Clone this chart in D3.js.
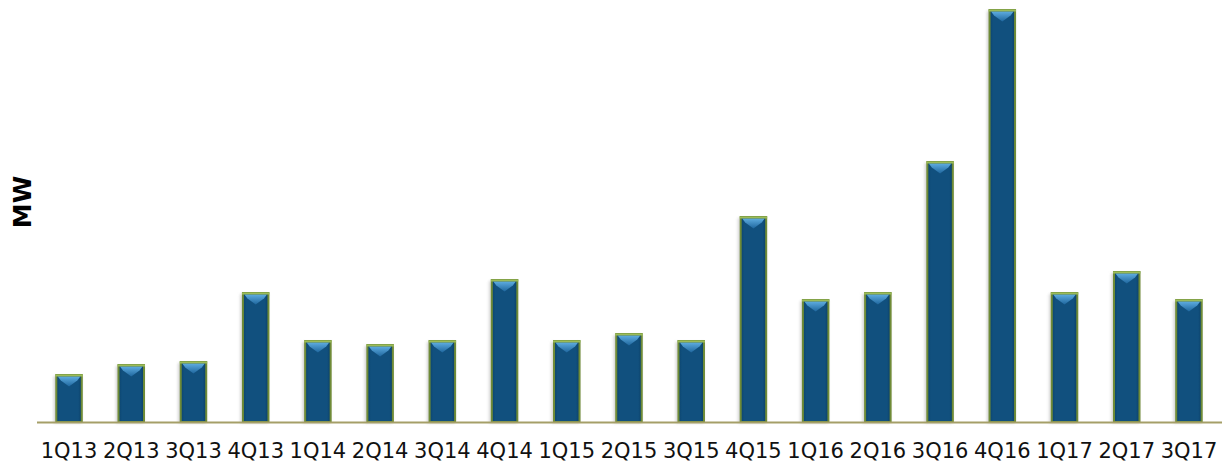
<!DOCTYPE html>
<html>
<head>
<meta charset="utf-8">
<script src="https://cdn.jsdelivr.net/npm/d3@7"></script>
<style>
  html, body { margin: 0; padding: 0; background: #fff; }
  svg { display: block; }
</style>
</head>
<body>
<svg id="chart" width="1222" height="472"></svg>
<script>
// Quarterly installed capacity (MW)
const quarters = ["1Q13","2Q13","3Q13","4Q13","1Q14","2Q14","3Q14","4Q14","1Q15","2Q15",
                  "3Q15","4Q15","1Q16","2Q16","3Q16","4Q16","1Q17","2Q17","3Q17"];
const capacityMW = [470, 570, 600, 1290, 810, 770, 810, 1420, 810, 880,
                    810, 2050, 1220, 1290, 2600, 4120, 1290, 1500, 1220];
const axisTitle = "MW";

const svg = d3.select("#chart");
const W = 1222, H = 472;
const margin = { left: 37, right: 1, top: 10, bottom: 50 };
const baseY = H - margin.bottom; // 422

const x = d3.scaleBand()
  .domain(quarters)
  .range([margin.left, W - margin.right])
  .paddingInner(0.59)
  .paddingOuter(0.31);

const y = d3.scaleLinear()
  .domain([0, d3.max(capacityMW)])
  .range([baseY, margin.top]);

const defs = svg.append("defs");
const bevel = defs.append("linearGradient")
  .attr("id", "bevelTop").attr("x1", 0).attr("y1", 0).attr("x2", 0).attr("y2", 1);
bevel.append("stop").attr("offset", "0%").attr("stop-color", "#5eace0");
bevel.append("stop").attr("offset", "100%").attr("stop-color", "#1f679e");

const body = defs.append("linearGradient")
  .attr("id", "barBody").attr("x1", 0).attr("y1", 0).attr("x2", 1).attr("y2", 0);
body.append("stop").attr("offset", "0%").attr("stop-color", "#0b446d");
body.append("stop").attr("offset", "14%").attr("stop-color", "#11507e");
body.append("stop").attr("offset", "86%").attr("stop-color", "#11507e");
body.append("stop").attr("offset", "100%").attr("stop-color", "#0b3f66");

const shadow = defs.append("filter").attr("id", "shadow")
  .attr("x", "-50%").attr("y", "-10%").attr("width", "200%").attr("height", "120%");
shadow.append("feGaussianBlur").attr("stdDeviation", 1.5);

const data = quarters.map((q, i) => ({ q, v: capacityMW[i] }));
const bw = x.bandwidth();

const bars = svg.append("g").selectAll("g.bar").data(data).join("g").attr("class", "bar");

// soft shadow behind each bar
bars.append("rect")
  .attr("x", d => x(d.q) - 2.5)
  .attr("y", d => y(d.v) + 1)
  .attr("width", bw + 2)
  .attr("height", d => baseY - y(d.v))
  .attr("fill", "#cfcfcf")
  .attr("filter", "url(#shadow)");

// bar body with green outline
bars.append("rect")
  .attr("x", d => x(d.q))
  .attr("y", d => y(d.v))
  .attr("width", bw)
  .attr("height", d => baseY - y(d.v))
  .attr("fill", "url(#barBody)")
  .attr("stroke", "#6f8b37")
  .attr("stroke-width", 2);

// lighter bevel at the top of each bar
bars.append("path")
  .attr("d", d => {
    const x0 = x(d.q) + 1.5, x1 = x(d.q) + bw - 1.5, t = y(d.v) + 1.5;
    return `M${x0},${t}L${x1},${t}L${x1 - 3},${t + 4}L${(x0 + x1) / 2},${t + 10}L${x0 + 3},${t + 4}Z`;
  })
  .attr("fill", "url(#bevelTop)");

// light green top edge
bars.append("line")
  .attr("x1", d => x(d.q) - 1)
  .attr("x2", d => x(d.q) + bw + 1)
  .attr("y1", d => y(d.v) + 0.5)
  .attr("y2", d => y(d.v) + 0.5)
  .attr("stroke", "#9bbb59")
  .attr("stroke-width", 2);

// baseline
svg.append("line")
  .attr("x1", margin.left).attr("x2", W)
  .attr("y1", baseY + 0.5).attr("y2", baseY + 0.5)
  .attr("stroke", "#a59f68").attr("stroke-width", 2);

// category labels
const xAxis = d3.axisBottom(x).tickSize(0).tickPadding(21);
const gx = svg.append("g").attr("transform", `translate(0,${baseY})`).call(xAxis);
gx.select(".domain").remove();
gx.selectAll("text")
  .attr("font-family", "'DejaVu Sans', Verdana, sans-serif")
  .attr("font-size", 21)
  .attr("fill", "#111");

// axis title
svg.append("text")
  .attr("transform", `translate(31,202) rotate(-90)`)
  .attr("text-anchor", "middle")
  .attr("font-family", "'DejaVu Sans', Verdana, sans-serif")
  .attr("font-weight", "bold")
  .attr("font-size", 25)
  .attr("fill", "#000")
  .text(axisTitle);
</script>
</body>
</html>
